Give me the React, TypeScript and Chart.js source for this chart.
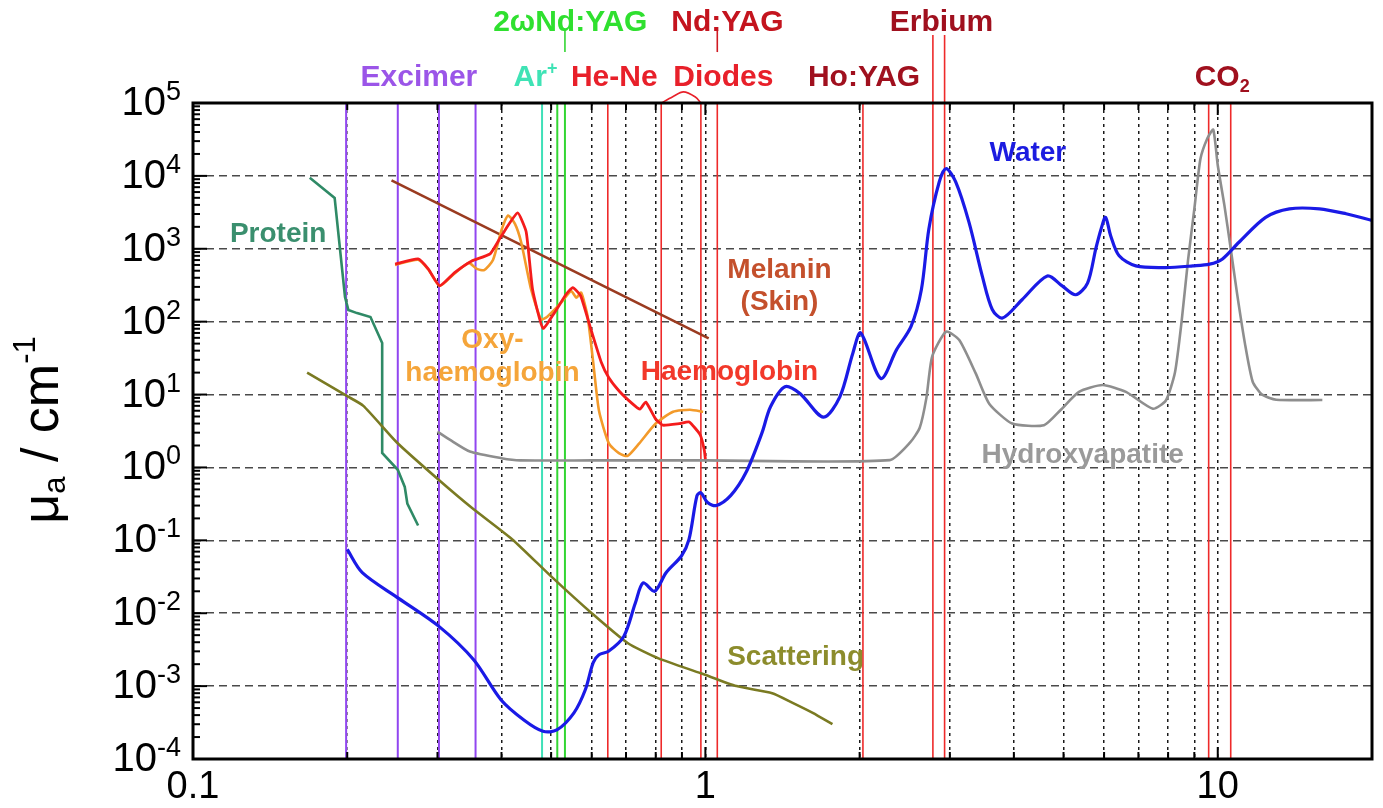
import { useEffect, useRef } from "react";
import { Chart, registerables } from "chart.js";

Chart.register(...registerables);

type Pt = [number, number];

// ---- spectra: wavelength (µm), absorption coefficient µa (cm^-1) ----
const water: Pt[] = [
  [0.2, 0.075], [0.214, 0.036], [0.252, 0.016], [0.302, 0.0066], [0.353, 0.0023],
  [0.399, 6.5e-4], [0.443, 3.4e-4], [0.482, 2.4e-4], [0.513, 2.5e-4], [0.554, 4.3e-4],
  [0.583, 8.9e-4], [0.604, 2.1e-3], [0.62, 2.7e-3], [0.647, 3.0e-3], [0.693, 4.8e-3],
  [0.73, 0.0138], [0.756, 0.026], [0.796, 0.02], [0.838, 0.036], [0.898, 0.061],
  [0.929, 0.103], [0.963, 0.41], [0.98, 0.45], [1.01, 0.33], [1.05, 0.3],
  [1.12, 0.41], [1.2, 0.85], [1.29, 3.0], [1.34, 6.8], [1.43, 12.8],
  [1.53, 10.3], [1.7, 4.9], [1.83, 9.3], [1.94, 37], [2.01, 70],
  [2.2, 16.6], [2.36, 41], [2.52, 86], [2.64, 276], [2.73, 1870],
  [2.86, 8260], [2.95, 12600], [3.08, 8260], [3.27, 2300], [3.47, 425],
  [3.63, 147], [3.8, 112], [4.15, 200], [4.65, 424], [4.97, 309],
  [5.28, 234], [5.57, 339], [5.78, 1000], [5.92, 1870], [6.04, 2700],
  [6.18, 1510], [6.42, 800], [6.92, 582], [7.92, 553], [8.94, 582],
  [9.64, 615], [10.2, 720], [11.0, 1230], [12.4, 2700], [13.8, 3530],
  [15.8, 3530], [17.8, 3020], [20, 2450],
];

const hydroxyapatite: Pt[] = [
  [0.3, 3.1], [0.317, 2.4], [0.347, 1.65], [0.4, 1.34], [0.435, 1.25],
  [0.6, 1.25], [1.0, 1.25], [2.29, 1.26], [2.51, 2.2], [2.62, 3.5],
  [2.7, 9], [2.77, 33], [2.95, 73], [3.13, 56], [3.37, 19.5],
  [3.58, 7.5], [3.97, 4.0], [4.58, 3.8], [4.93, 6.1], [5.36, 10.9],
  [5.96, 13.5], [6.62, 10.9], [7.47, 6.4], [7.92, 8.3], [8.25, 20],
  [8.5, 100], [8.75, 700], [9.0, 3500], [9.25, 17000], [9.55, 33000],
  [9.8, 43000], [10.0, 14000], [10.3, 4000], [10.6, 1000], [10.9, 250],
  [11.3, 50], [11.7, 15], [12.2, 10], [13.0, 8.5], [16.0, 8.4],
];

const scattering: Pt[] = [
  [0.167, 20], [0.2, 9.5], [0.215, 7.0], [0.25, 2.2], [0.3, 0.7],
  [0.35, 0.28], [0.42, 0.103], [0.5, 0.032], [0.6, 0.01], [0.705, 3.9e-3],
  [0.81, 2.4e-3], [0.98, 1.5e-3], [1.15, 1.0e-3], [1.35, 8e-4], [1.48, 5.9e-4],
  [1.62, 4.3e-4], [1.77, 3.0e-4],
];

const protein: Pt[] = [
  [0.169, 9400], [0.189, 4980], [0.198, 218], [0.201, 145], [0.209, 131],
  [0.222, 116], [0.234, 51], [0.234, 1.58], [0.251, 0.93], [0.259, 0.54],
  [0.262, 0.32], [0.275, 0.16],
];

const melanin: Pt[] = [[0.244, 8700], [1.015, 59]];

const haemoglobin: Pt[] = [
  [0.248, 615], [0.275, 725], [0.288, 525], [0.303, 310], [0.324, 470],
  [0.35, 680], [0.38, 850], [0.4, 1510], [0.43, 3100], [0.447, 1700],
  [0.46, 276], [0.482, 81], [0.507, 131], [0.534, 234], [0.551, 294],
  [0.571, 226], [0.598, 78], [0.626, 28], [0.648, 17], [0.68, 11],
  [0.72, 7.5], [0.745, 6.3], [0.765, 7.9], [0.8, 4.6], [0.826, 3.8],
  [0.89, 4.0], [0.93, 4.2], [0.977, 2.8], [0.995, 1.74], [1.0, 1.3],
];

const oxyHaemoglobin: Pt[] = [
  [0.248, 600], [0.275, 710], [0.288, 520], [0.303, 310], [0.324, 460],
  [0.345, 640], [0.358, 530], [0.37, 510], [0.385, 700], [0.4, 1800],
  [0.412, 2860], [0.425, 2200], [0.437, 1230], [0.457, 276], [0.478, 107],
  [0.492, 118], [0.523, 182], [0.547, 263], [0.56, 214], [0.572, 251],
  [0.589, 118], [0.605, 25], [0.62, 6], [0.648, 2.14], [0.678, 1.57],
  [0.705, 1.44], [0.743, 2.14], [0.8, 4.0], [0.865, 5.8], [0.933, 6.2],
  [0.99, 5.8],
];

// ---- laser wavelengths (µm) ----
const excimerLines = [0.199, 0.251, 0.302, 0.356];
const argonBlueLines = [0.48];
const greenLines = [0.514, 0.532];
const heNeLines = [0.645];
const diodeLines = [0.82, 0.98];
const ndYagLines = [1.055];
const hoYagLines = [2.03];
const erbiumLines = [2.78, 2.93];
const co2Lines = [9.6, 10.6];
const diodeBracket: Pt[] = [[0.82, 1e5], [0.862, 1.21e5], [0.906, 1.42e5], [0.956, 1.21e5], [0.98, 1e5]];

// ---- axes ----
const xTickValues = [0.1, 0.2, 0.3, 0.4, 0.5, 0.6, 0.7, 0.8, 0.9, 1, 2, 3, 4, 5, 6, 7, 8, 9, 10, 20];
const xLabelValues = [0.1, 1, 10];
const yExponents = [-4, -3, -2, -1, 0, 1, 2, 3, 4, 5];

const FONT = "'Liberation Sans', Arial, Helvetica, sans-serif";

type Part = { t: string; size?: number; dy?: number };
type Ann = { parts: Part[]; x: number; y: number; color: string; size: number };

const annotations: Ann[] = [
  { parts: [{ t: "2ωNd:YAG" }], x: 0.545, y: 1.25e6, color: "#2fe02f", size: 30 },
  { parts: [{ t: "Nd:YAG" }], x: 1.104, y: 1.25e6, color: "#c4141e", size: 30 },
  { parts: [{ t: "Erbium" }], x: 2.89, y: 1.25e6, color: "#a0101e", size: 30 },
  { parts: [{ t: "Excimer" }], x: 0.276, y: 2.2e5, color: "#9b55e8", size: 30 },
  { parts: [{ t: "Ar" }, { t: "+", size: 18, dy: -9 }], x: 0.466, y: 2.2e5, color: "#3fe3b5", size: 30 },
  { parts: [{ t: "He-Ne" }], x: 0.664, y: 2.2e5, color: "#e8202a", size: 30 },
  { parts: [{ t: "Diodes" }], x: 1.084, y: 2.2e5, color: "#e8202a", size: 30 },
  { parts: [{ t: "Ho:YAG" }], x: 2.04, y: 2.2e5, color: "#a0101e", size: 30 },
  { parts: [{ t: "CO" }, { t: "2", size: 18, dy: 9 }], x: 10.2, y: 2.2e5, color: "#a0101e", size: 30 },
  { parts: [{ t: "Water" }], x: 4.26, y: 2.06e4, color: "#1c1ce0", size: 28 },
  { parts: [{ t: "Protein" }], x: 0.1466, y: 1600, color: "#3a8f6e", size: 28 },
  { parts: [{ t: "Melanin" }], x: 1.395, y: 512, color: "#c4502c", size: 28 },
  { parts: [{ t: "(Skin)" }], x: 1.395, y: 186, color: "#c4502c", size: 28 },
  { parts: [{ t: "Oxy-" }], x: 0.384, y: 56, color: "#f5a53a", size: 28 },
  { parts: [{ t: "haemoglobin" }], x: 0.384, y: 19.8, color: "#f5a53a", size: 28 },
  { parts: [{ t: "Haemoglobin" }], x: 1.114, y: 20.4, color: "#f2382a", size: 28 },
  { parts: [{ t: "Hydroxyapatite" }], x: 5.45, y: 1.45, color: "#9a9a9a", size: 28 },
  { parts: [{ t: "Scattering" }], x: 1.5, y: 2.5e-3, color: "#8c8c2c", size: 28 },
];

function drawParts(
  ctx: CanvasRenderingContext2D,
  parts: Part[],
  x: number,
  y: number,
  base: number,
  weight: string,
  color: string
) {
  const widths = parts.map((p) => {
    ctx.font = `${weight} ${p.size ?? base}px ${FONT}`;
    return ctx.measureText(p.t).width;
  });
  const total = widths.reduce((a, b) => a + b, 0);
  let cx = x - total / 2;
  ctx.fillStyle = color;
  ctx.textAlign = "left";
  ctx.textBaseline = "middle";
  parts.forEach((p, i) => {
    ctx.font = `${weight} ${p.size ?? base}px ${FONT}`;
    ctx.fillText(p.t, cx, y + (p.dy ?? 0));
    cx += widths[i];
  });
}

const decorPlugin = {
  id: "decor",
  afterDraw(chart: any) {
    const { ctx, chartArea: a, scales } = chart;
    const xs = scales.x;
    const ys = scales.y;
    ctx.save();
    ctx.strokeStyle = "#000";
    ctx.lineWidth = 2;
    const seg = (x1: number, y1: number, x2: number, y2: number) => {
      ctx.beginPath();
      ctx.moveTo(x1, y1);
      ctx.lineTo(x2, y2);
      ctx.stroke();
    };
    // inward x ticks
    for (const v of xTickValues) {
      if (v <= 0.1 || v >= 20) continue;
      const px = xs.getPixelForValue(v);
      const len = v === 1 || v === 10 ? 12 : 7;
      seg(px, a.bottom, px, a.bottom - len);
      seg(px, a.top, px, a.top + len);
    }
    // inward y ticks (major + minor)
    for (const e of yExponents) {
      for (let m = 1; m <= 9; m++) {
        const v = m * Math.pow(10, e);
        if (v > 1e5) continue;
        const py = ys.getPixelForValue(v);
        seg(a.left, py, a.left + (m === 1 ? 14 : 7), py);
      }
    }
    // frame
    ctx.lineWidth = 3;
    ctx.strokeRect(a.left, a.top, a.right - a.left, a.bottom - a.top);

    // y tick labels
    ctx.fillStyle = "#000";
    for (const e of yExponents) {
      const py = ys.getPixelForValue(Math.pow(10, e));
      const ex = String(e);
      ctx.font = `40px ${FONT}`;
      const w1 = ctx.measureText("10").width;
      ctx.font = `27px ${FONT}`;
      const w2 = ctx.measureText(ex).width;
      const x0 = 181 - w1 - w2;
      ctx.textAlign = "left";
      ctx.font = `40px ${FONT}`;
      ctx.textBaseline = "middle";
      ctx.fillText("10", x0, py + 1);
      ctx.font = `27px ${FONT}`;
      ctx.textBaseline = "alphabetic";
      ctx.fillText(ex, x0 + w1, py - 3);
    }
    // x tick labels
    ctx.font = `38px ${FONT}`;
    ctx.textAlign = "center";
    ctx.textBaseline = "middle";
    for (const v of xLabelValues) {
      ctx.fillText(String(v), xs.getPixelForValue(v), 788);
    }
    // y axis title
    ctx.save();
    ctx.translate(44, 430);
    ctx.rotate(-Math.PI / 2);
    drawParts(
      ctx,
      [{ t: "μ" }, { t: "a", size: 31, dy: 12 }, { t: " / cm" }, { t: "-1", size: 31, dy: -18 }],
      0,
      0,
      52,
      "normal",
      "#000"
    );
    ctx.restore();

    // annotations
    for (const an of annotations) {
      drawParts(ctx, an.parts, xs.getPixelForValue(an.x), ys.getPixelForValue(an.y), an.size, "bold", an.color);
    }
    ctx.restore();
  },
};

export default function App() {
  const ref = useRef<HTMLCanvasElement>(null);

  useEffect(() => {
    const canvas = ref.current;
    if (!canvas) return;

    const toXY = (d: Pt[]) => d.map(([x, y]) => ({ x, y }));
    const curve = (d: Pt[], color: string, width: number, tension: number, order: number) => ({
      data: toXY(d),
      borderColor: color,
      backgroundColor: color,
      borderWidth: width,
      pointRadius: 0,
      showLine: true,
      fill: false,
      tension,
      order,
    });
    const vlines = (xsArr: number[], color: string, width: number, bottom = 1e-4, top = 1e5) =>
      xsArr.map((x) => ({
        data: [
          { x, y: bottom },
          { x, y: top },
        ],
        borderColor: color,
        backgroundColor: color,
        borderWidth: width,
        pointRadius: 0,
        showLine: true,
        fill: false,
        tension: 0,
        clip: false as const,
        order: 10,
      }));

    const datasets: any[] = [
      ...vlines(excimerLines, "#9146f0", 2),
      ...vlines(argonBlueLines, "#3fe0b8", 2),
      ...vlines(greenLines, "#33d633", 2),
      ...vlines(heNeLines, "#ee2a2a", 1.6),
      ...vlines(diodeLines, "#ee2a2a", 1.6),
      ...vlines(ndYagLines, "#ee2a2a", 1.6),
      ...vlines(hoYagLines, "#ee2a2a", 1.6),
      ...vlines(erbiumLines, "#ee2a2a", 1.6, 1e-4, 8.6e5),
      ...vlines(co2Lines, "#ee2a2a", 1.6),
      ...vlines([0.532], "#33d633", 1.6, 5e5, 1e6),
      ...vlines([1.055], "#d01a22", 1.6, 5e5, 1e6),
      { ...curve(diodeBracket, "#e8202a", 1.6, 0.3, 9), clip: false },
      curve(protein, "#2f8a66", 2.6, 0, 6),
      curve(scattering, "#7a7a22", 2.6, 0.2, 5),
      curve(hydroxyapatite, "#8e8e8e", 2.6, 0.2, 4),
      curve(melanin, "#9a3b20", 2.6, 0, 3),
      curve(oxyHaemoglobin, "#f39a2a", 2.6, 0.2, 2),
      curve(haemoglobin, "#f41c1c", 2.8, 0.15, 1),
      curve(water, "#1a1ae6", 3.2, 0.3, 0),
    ];

    const chart = new Chart(canvas, {
      type: "scatter",
      data: { datasets },
      options: {
        animation: false,
        responsive: false,
        maintainAspectRatio: false,
        events: [],
        layout: { padding: { left: 193, top: 103, right: 11, bottom: 49 } },
        plugins: { legend: { display: false }, tooltip: { enabled: false } },
        scales: {
          x: {
            type: "logarithmic",
            min: 0.1,
            max: 20,
            afterBuildTicks: (s: any) => {
              s.ticks = xTickValues.map((v) => ({ value: v }));
            },
            ticks: { display: false },
            grid: {
              drawTicks: false,
              lineWidth: 1.5,
              color: (c: any) =>
                c.tick && c.tick.value > 0.1 && c.tick.value < 20 ? "#1a1a1a" : "rgba(0,0,0,0)",
            },
            border: { display: false, dash: [3, 4] },
          },
          y: {
            type: "logarithmic",
            min: 1e-4,
            max: 1e5,
            afterBuildTicks: (s: any) => {
              s.ticks = yExponents.map((e) => ({ value: Math.pow(10, e) }));
            },
            ticks: { display: false },
            grid: {
              drawTicks: false,
              lineWidth: 1.6,
              color: (c: any) =>
                c.tick && c.tick.value > 1.5e-4 && c.tick.value < 5e4 ? "#4a4a4a" : "rgba(0,0,0,0)",
            },
            border: { display: false, dash: [8, 5] },
          },
        },
      } as any,
      plugins: [decorPlugin],
    });

    return () => chart.destroy();
  }, []);

  return (
    <div style={{ position: "absolute", left: 0, top: 0, width: 1383, height: 808, background: "#fff" }}>
      <canvas ref={ref} width={1383} height={808} style={{ display: "block", width: 1383, height: 808 }} />
    </div>
  );
}
